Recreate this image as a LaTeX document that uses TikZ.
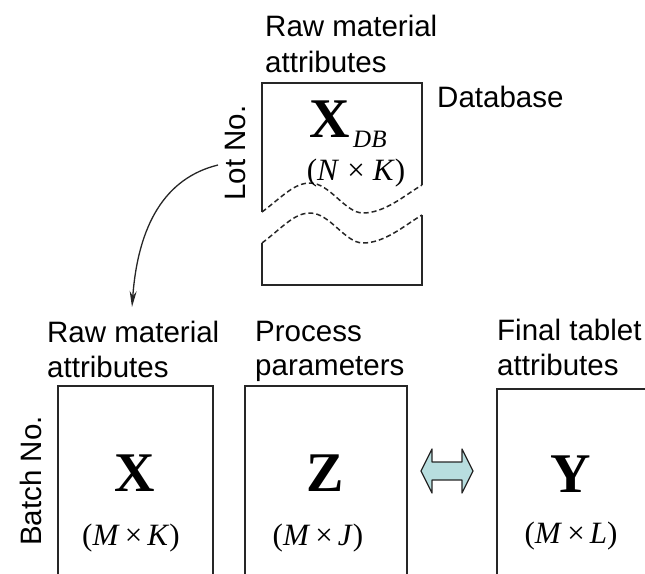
\documentclass[tikz,border=0pt]{standalone}
\usepackage{fontspec}
\setmainfont{Liberation Serif}
\newfontfamily\arialf{Liberation Sans}
\usetikzlibrary{arrows.meta}
\definecolor{arrfill}{HTML}{B8DEDF}
\definecolor{linec}{HTML}{262626}
\begin{document}
\begin{tikzpicture}[x=1pt,y=-1pt,
  lbl/.style={font=\arialf\fontsize{29.5}{35}\selectfont, inner sep=0pt, anchor=base west},
  big/.style={font=\fontsize{56}{60}\selectfont\bfseries, inner sep=0pt, anchor=base},
  dim/.style={font=\fontsize{31}{35}\selectfont, inner sep=0pt, anchor=base},
  boxline/.style={draw=linec, line width=1.6pt},
  matbox/.style={boxline, rectangle, inner sep=0pt, minimum height=250pt, anchor=north west},
  wave/.style={draw=linec, line width=1.5pt, dash pattern=on 5pt off 3pt}]
\useasboundingbox (0,0) rectangle (645,573);
% database box
\draw[boxline] (262,212) -- (262,83) -- (422,83) -- (422,185);
\draw[boxline] (262,243) -- (262,285) -- (422,285) -- (422,215);
\draw[wave] (262,212) .. controls (282,197) and (294,183) .. (310,183)
  .. controls (330,183) and (345,213) .. (363,213)
  .. controls (385,213) and (405,195) .. (422,185);
\draw[wave] (262,243) .. controls (282,228) and (294,213) .. (310,213)
  .. controls (330,213) and (345,243) .. (363,243)
  .. controls (385,243) and (405,225) .. (422,215);
\node[lbl] (t1a) at (265,36) {Raw material};
\node[lbl] (t1b) at (265,72) {attributes};
\node[lbl] (db) at (437,107) {Database};
\node[lbl, anchor=base, rotate=90] (lot) at (245,153) {Lot No.};
\node[big] (xdb) at (330,137) {X};
\node[font=\fontsize{25}{28}\selectfont\itshape, inner sep=0pt, anchor=base west] (dbsub) at (353,147) {DB};
\node[dim] (ndim) at (356,180) {(\textit{N}\hspace{8pt}×\hspace{8pt}\textit{K})};
% bottom boxes
\node[matbox, minimum width=155pt] (bx) at (57,385) {};
\node[matbox, minimum width=162pt] (bz) at (244,385) {};
\node[matbox, minimum width=150pt] (by) at (496,388) {};
\node[lbl] (l1a) at (47,342) {Raw material};
\node[lbl] (l1b) at (47,377) {attributes};
\node[lbl] (l2a) at (255,341) {Process};
\node[lbl] (l2b) at (255,375) {parameters};
\node[lbl] (l3a) at (497,340) {Final tablet};
\node[lbl] (l3b) at (497,375) {attributes};
\node[lbl, anchor=base, rotate=90] (batch) at (41,481) {Batch No.};
\node[big] (xl) at (135,491) {X};
\node[dim] (xdim) at (131,545) {(\textit{M}\,×\hspace{5pt}\textit{K})};
\node[big] (zl) at (325,491) {Z};
\node[dim] (zdim) at (318,545) {(\textit{M}\,×\hspace{5pt}\textit{J})};
\node[big] (yl) at (571,492) {Y};
\node[dim] (ydim) at (571,543) {(\textit{M}\,×\hspace{5pt}\textit{L})};
% connector
\coordinate (a0) at (218,165);
\coordinate (a1) at (132,307);
\draw[line width=1.3pt, draw=linec, -{Stealth[length=16pt,width=7pt]}] (a0) .. controls (165,178) and (138,225) .. (a1);
% double arrow
\draw[fill=arrfill, draw=linec, line width=1.3pt, line join=round]
  (421,471) -- (432,449) -- (432,462) -- (462,462) -- (462,449) -- (473,471)
  -- (462,493) -- (462,480) -- (432,480) -- (432,493) -- cycle;
\end{tikzpicture}
\end{document}
